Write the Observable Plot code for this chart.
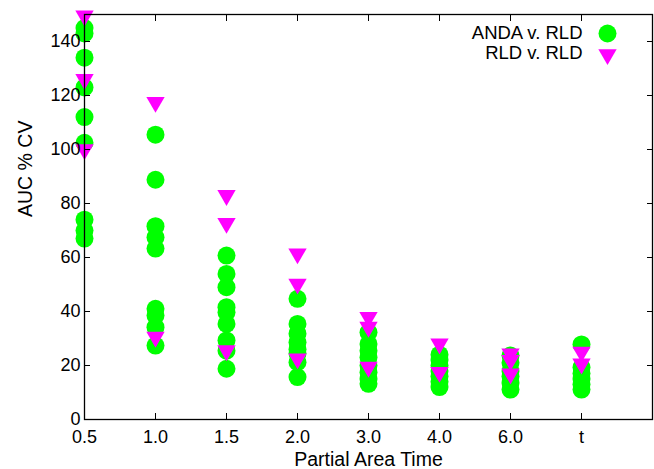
<!DOCTYPE html>
<html><head><meta charset="utf-8">
<script src="https://cdn.jsdelivr.net/npm/d3@7"></script>
<script src="https://cdn.jsdelivr.net/npm/@observablehq/plot@0.6"></script>
<style>html,body{margin:0;padding:0;background:#fff} svg{display:block}</style>
</head><body><div id="chart"></div>
<script>
// Category tick labels (x positions are category indexes 0..7)
const categories = ["0.5", "1.0", "1.5", "2.0", "3.0", "4.0", "6.0", "t"];
const yTicks = [0, 20, 40, 60, 80, 100, 120, 140];
const seriesNames = ["ANDA v. RLD", "RLD v. RLD"];
const xTitle = "Partial Area Time";
const yTitle = "AUC % CV";

// ANDA v. RLD values (% CV) per category
const andaValues = [
  [145, 143, 134, 123, 112, 102.5, 74, 70, 67],
  [105.5, 88.8, 71.6, 67.5, 63.3, 41, 38.5, 34.2, 27.4],
  [60.7, 53.9, 49, 41.6, 39.7, 35.4, 29.3, 25.5, 18.8],
  [44.7, 35.4, 31.8, 28.6, 26, 24.4, 21.2, 15.7],
  [32.3, 28, 25.5, 23, 20, 17.5, 15, 13.2],
  [24, 22, 20, 18, 16, 14, 12],
  [23.7, 21, 18, 16, 13.5, 11.1],
  [27.8, 19.3, 17, 15, 13, 11.1]
];
// RLD v. RLD values (% CV) per category
const rldValues = [
  [149.5, 126, 100],
  [117.5, 30.5],
  [83, 72.7, 25.5],
  [61.4, 50.2, 22.5],
  [37.9, 34.2, 19.4],
  [28, 17.5],
  [24.3, 21.9, 16.9],
  [25, 20.6]
];

const anda = andaValues.flatMap((vals, i) => vals.map(v => ({x: i, y: v})));
const rld = rldValues.flatMap((vals, i) => vals.map(v => ({x: i, y: v})));
const catIdx = categories.map((c, i) => i);

const green = "#00ff00", magenta = "#ff00ff";

const chart = Plot.plot({
  width: 654, height: 469,
  marginLeft: 84, marginRight: 2, marginTop: 14, marginBottom: 50,
  style: {fontFamily: "'Liberation Sans', Arial, Helvetica, sans-serif", fontSize: "18px", color: "#000", background: "#fff", overflow: "visible"},
  x: {domain: [0, 8]},
  y: {domain: [0, 150]},
  marks: [
    Plot.dot(anda, {x: "x", y: "y", r: 9, fill: green, stroke: "none", symbol: "circle"}),
    Plot.dot(rld, {x: "x", y: "y", r: 6.8, fill: magenta, stroke: "none", symbol: "triangle", rotate: 180}),
    Plot.frame({stroke: "#000", strokeWidth: 1.3}),
    Plot.axisX(catIdx, {anchor: "bottom", tickSize: -6, tickPadding: 17, tickFormat: i => categories[i], label: null, fontSize: 18}),
    Plot.axisX(catIdx, {anchor: "top", tickSize: -6, tickFormat: () => "", label: null}),
    Plot.axisY(yTicks, {anchor: "left", tickSize: -6, tickPadding: 10, label: null, fontSize: 18}),
    Plot.axisY(yTicks, {anchor: "right", tickSize: -6, tickFormat: () => "", label: null}),
    // axis titles
    Plot.text([xTitle], {frameAnchor: "bottom", text: d => d, lineAnchor: "middle", dy: 40.5, fontSize: 19.5}),
    Plot.text([yTitle], {frameAnchor: "left", text: d => d, lineAnchor: "middle", rotate: -90, dx: -59, fontSize: 19.5}),
    // legend
    Plot.text([seriesNames[0]], {frameAnchor: "top-right", text: d => d, textAnchor: "end", lineAnchor: "middle", dx: -70, dy: 19, fontSize: 18.5}),
    Plot.text([seriesNames[1]], {frameAnchor: "top-right", text: d => d, textAnchor: "end", lineAnchor: "middle", dx: -70, dy: 39, fontSize: 18.5}),
    Plot.dot([seriesNames[0]], {frameAnchor: "top-right", dx: -45, dy: 19, r: 9, fill: green, symbol: "circle"}),
    Plot.dot([seriesNames[1]], {frameAnchor: "top-right", dx: -45, dy: 40, r: 6.8, fill: magenta, symbol: "triangle", rotate: 180})
  ]
});
document.getElementById("chart").appendChild(chart);
</script>
</body></html>
